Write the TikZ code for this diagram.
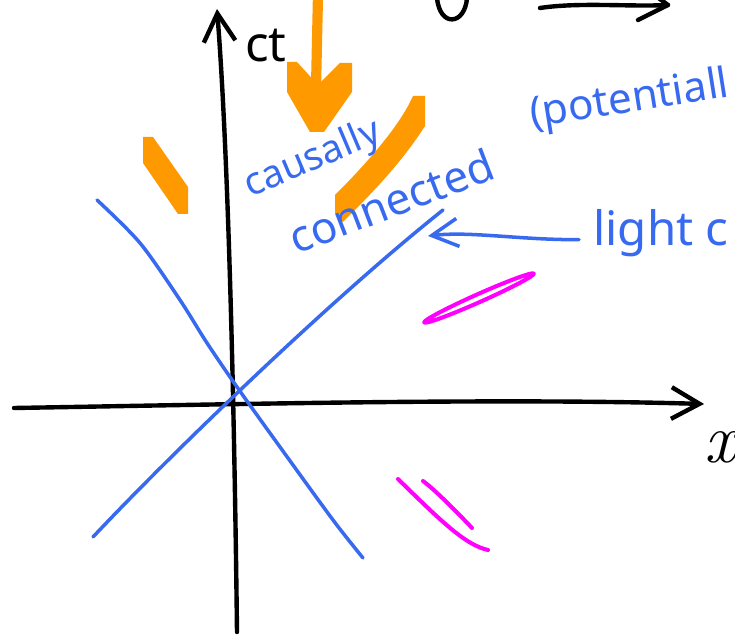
\documentclass[tikz,border=0pt]{standalone}
\usepackage{fontspec}
\setsansfont{Noto Sans}
\usepackage{tikz}
\usetikzlibrary{calc, positioning, arrows.meta}
\definecolor{coneBlue}{RGB}{56, 106, 240}
\definecolor{flowOrange}{RGB}{255, 153, 0}
\definecolor{markPink}{RGB}{255, 0, 255}

\begin{document}
\begin{tikzpicture}[x=0.02cm, y=-0.02cm, line cap=round, line join=round,
  axis/.style={line width=2.5pt, black},
  cone/.style={line width=2pt, coneBlue},
  scrawl/.style={coneBlue, inner sep=0pt, font=\sffamily},
  pink/.style={line width=2.3pt, markPink}]
  \useasboundingbox (0,0) rectangle (735,638);
  \clip (0,0) rectangle (735,638);

  % pieces cut off at the top
  \draw[axis] (437,-2) .. controls (440,28) and (465,25) .. (467,-2);
  \draw[axis] (540,8) .. controls (580,2) and (630,7) .. (668,5);
  \draw[axis] (638,20) -- (668,5) -- (645,-12);

  % orange marks
  \fill[flowOrange] (143,137) -- (153,137) -- (188,187) -- (188,214) -- (178,214) -- (143,163) -- cycle;
  \draw[flowOrange, line width=5.8pt, line cap=butt] (318,-5) -- (316,88);
  \fill[flowOrange] (287,62) -- (297,62) -- (318,85) -- (340,63) -- (352,63)
    -- (352,92) -- (324,132) -- (310,132) -- (287,92) -- cycle;
  \fill[flowOrange] (413,96) -- (425,96) -- (425,126)
    .. controls (400,165) and (370,195) .. (343,222) -- (335,213) -- (335,195)
    .. controls (370,160) and (400,125) .. (413,96) -- cycle;

  % axes
  \coordinate (xl) at (14,408);
  \coordinate (xr) at (704,404);
  \coordinate (tb) at (237,632);
  \coordinate (tt) at (217,9);
  \draw[axis, -{Straight Barb[length=16pt, width=18pt]}] (xl) .. controls (250,404) and (500,398) .. (xr);
  \draw[axis, -{Straight Barb[length=16pt, width=18pt]}] (tb) .. controls (233,300) and (225,110) .. (tt);
  \node[font=\sffamily\fontsize{28}{30}\selectfont] (ctlabel) at (266,46) {ct};
  \node[font=\fontsize{40}{44}\selectfont\itshape, anchor=west, inner sep=0pt] (xlabel) at (704,447) {x};

  % light cone
  \draw[cone] plot[smooth, tension=0.5] coordinates {(97,200) (140,243) (180,300) (207,343)
    (237,387) (280,447) (333,520) (363,558)};
  \draw[cone] (93,537) .. controls (170,455) and (330,300) .. (443,210);

  % labels
  \node[scrawl, rotate=23, font=\sffamily\fontsize{22}{24}\selectfont] (causally) at (313,160) {causally};
  \node[scrawl, rotate=21, font=\sffamily\fontsize{25}{27}\selectfont] (connected) at (391,201) {connected};
  \node[scrawl, rotate=9, anchor=base west, font=\sffamily\fontsize{24}{26}\selectfont] (potentially) at (532,128) {(potentiall};
  \node[scrawl, anchor=base west, font=\sffamily\fontsize{27}{29}\selectfont] (lightcone) at (593,246) {light c};
  \coordinate (hit) at (428,236);
  \draw[cone, -{Straight Barb[length=15pt, width=16pt]}] ($(lightcone.west)+(-14,6)$)
    .. controls (520,240) and (470,231) .. (hit);

  % magenta marks
  \draw[pink, rotate around={24:(479,298)}] (479,298) ellipse (60 and 4);
  \draw[pink] (398,479) .. controls (440,520) and (465,545) .. (488,550);
  \draw[pink] (423,481) .. controls (435,490) and (455,510) .. (472,528);
\end{tikzpicture}
\end{document}
